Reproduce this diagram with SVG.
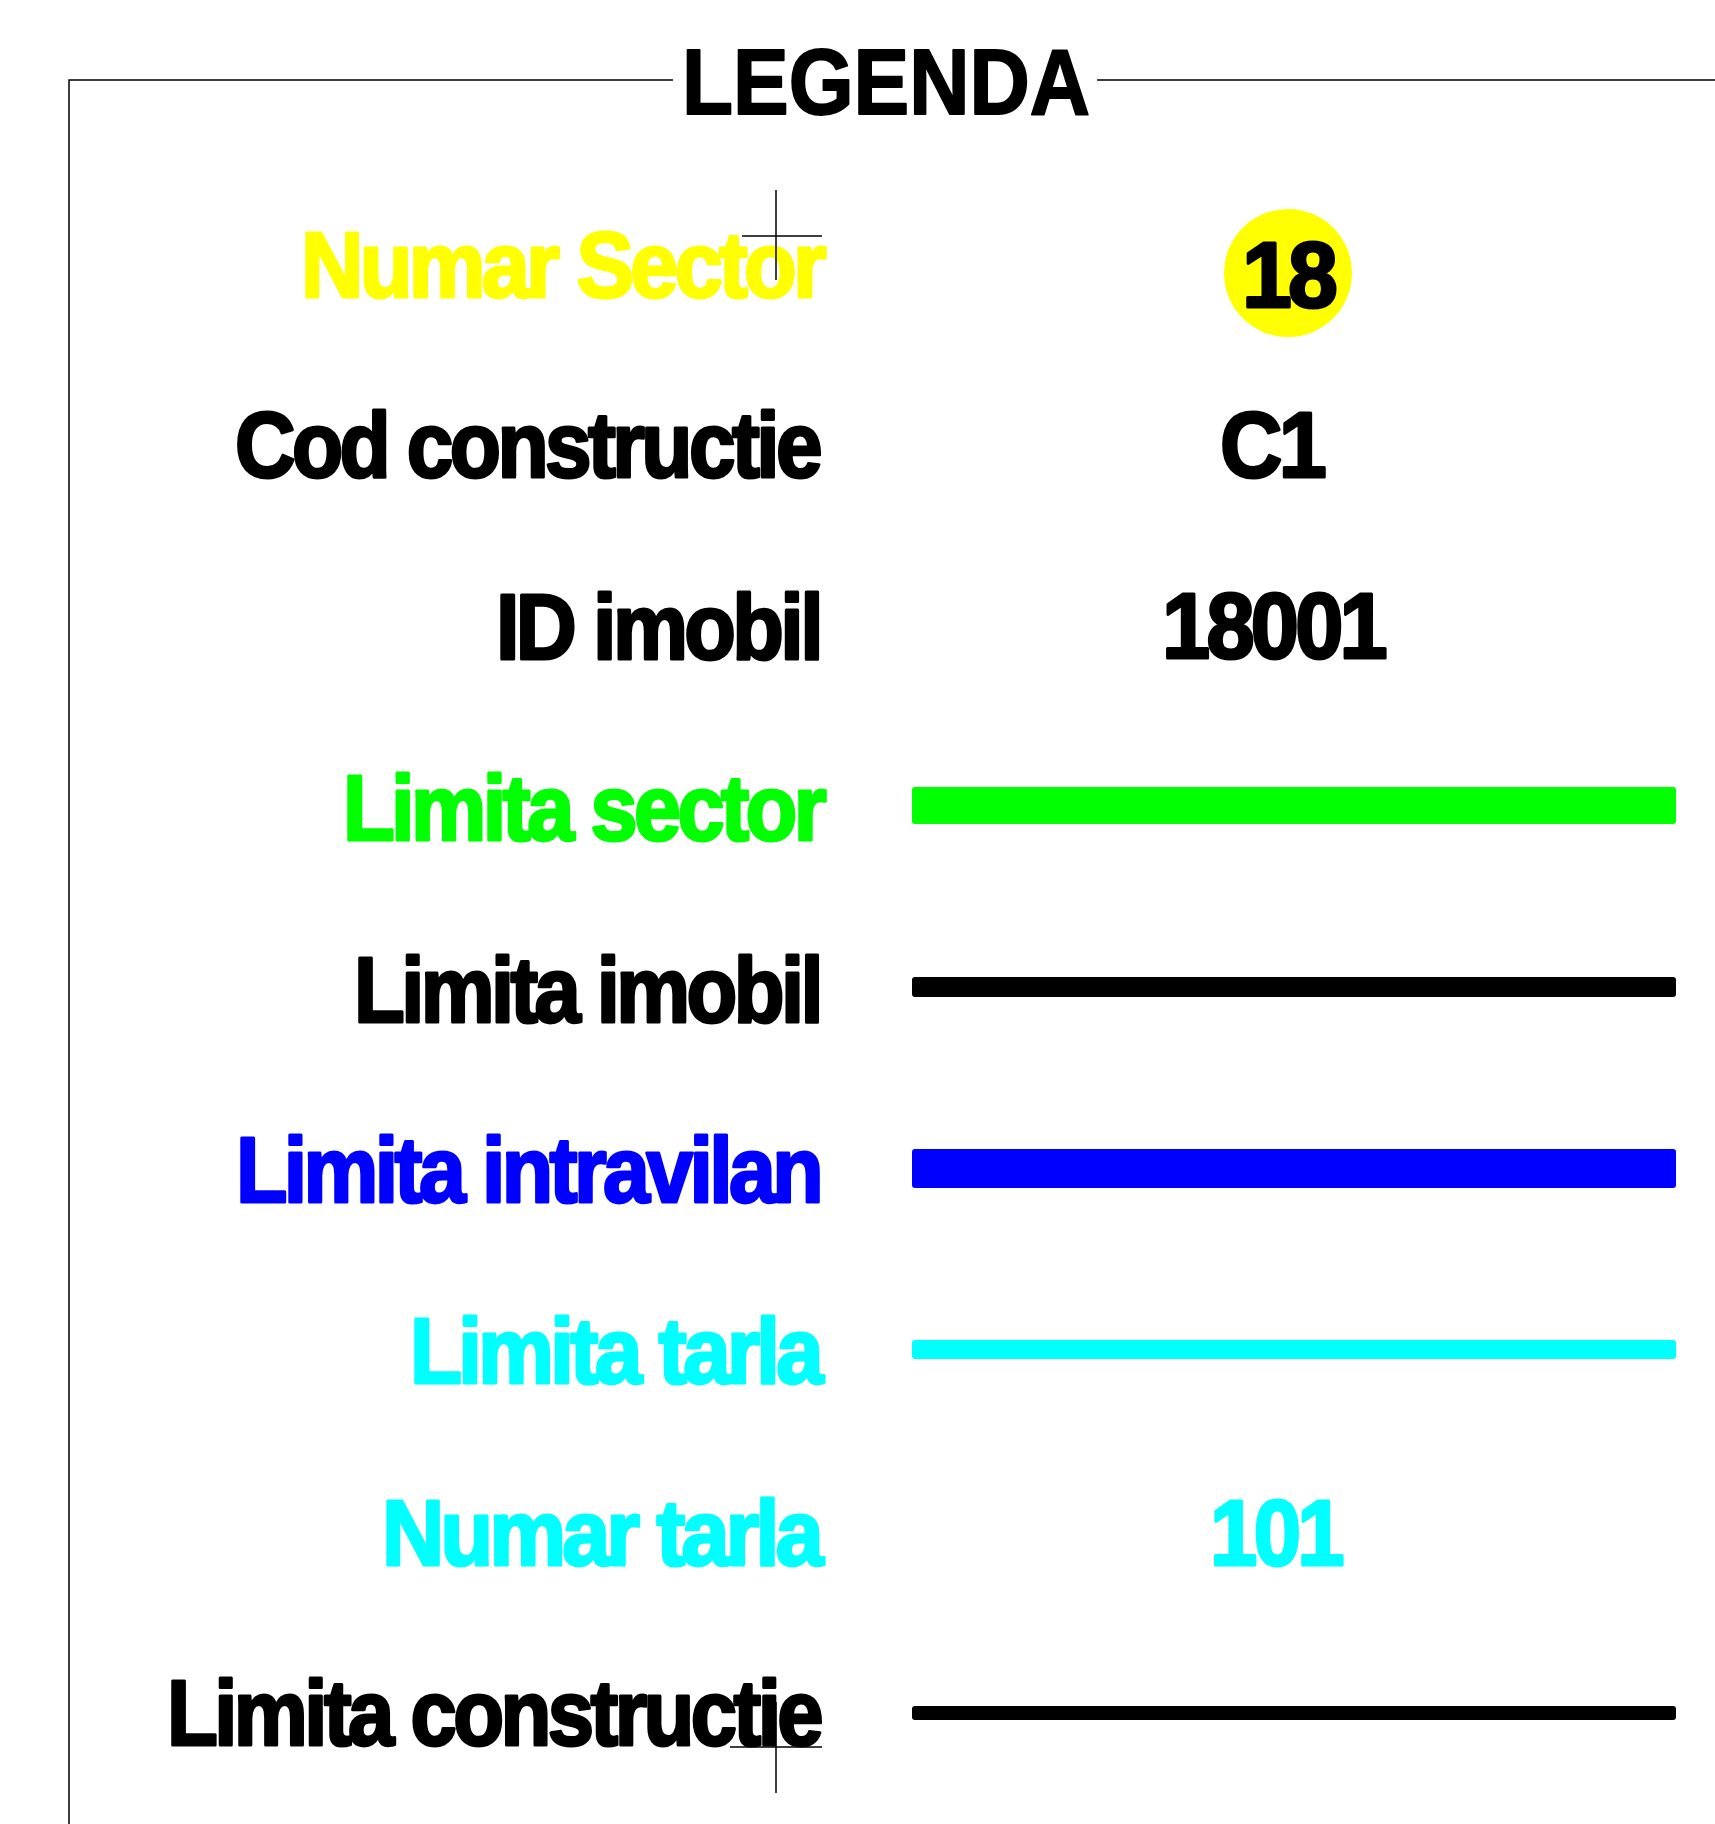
<svg xmlns="http://www.w3.org/2000/svg" width="1715" height="1824" viewBox="0 0 1715 1824">
<style>
  .t { font-family: "Liberation Sans", Arial, sans-serif; font-weight: bold; font-size: 93px; stroke-width: 3; stroke-linejoin: round; letter-spacing: -4px; }
  .h { letter-spacing: 0; stroke-width: 2; }
  .k { fill: #000; stroke: #000; }
  .y { fill: #ffff00; stroke: #ffff00; }
  .g { fill: #00ff00; stroke: #00ff00; }
  .b { fill: #0000ff; stroke: #0000ff; }
  .c { fill: #00ffff; stroke: #00ffff; }
  .frame { stroke: #000; stroke-width: 1.5; fill: none; }
  .cross { stroke: #000; stroke-width: 1.5; fill: none; }
</style>
<rect x="0" y="0" width="1715" height="1824" fill="#fff"/>
<g id="frame">
  <path class="frame" d="M69,1824 V80 H673 M1097,80 H1715"/>
  <text class="t h k" x="682" y="114" textLength="408" lengthAdjust="spacingAndGlyphs">LEGENDA</text>
</g>
<g id="row-numar-sector">
  <text class="t y" x="301" y="297" textLength="522" lengthAdjust="spacingAndGlyphs">Numar Sector</text>
  <circle cx="1288" cy="273" r="64" fill="#ffff00"/>
  <text class="t k" x="1242" y="307" textLength="92" lengthAdjust="spacingAndGlyphs">18</text>
</g>
<g id="row-cod-constructie">
  <text class="t k" x="235" y="477" textLength="584" lengthAdjust="spacingAndGlyphs">Cod constructie</text>
  <text class="t k" x="1220" y="477" textLength="103" lengthAdjust="spacingAndGlyphs">C1</text>
</g>
<g id="row-id-imobil">
  <text class="t k" x="496" y="659" textLength="324" lengthAdjust="spacingAndGlyphs">ID imobil</text>
  <text class="t k" x="1162" y="658" textLength="222" lengthAdjust="spacingAndGlyphs">18001</text>
</g>
<g id="row-limita-sector">
  <text class="t g" x="343" y="840" textLength="480" lengthAdjust="spacingAndGlyphs">Limita sector</text>
  <rect x="912" y="787" width="764" height="37" rx="3" fill="#00ff00"/>
</g>
<g id="row-limita-imobil">
  <text class="t k" x="354" y="1022" textLength="466" lengthAdjust="spacingAndGlyphs">Limita imobil</text>
  <rect x="912" y="977" width="764" height="20" rx="3" fill="#000"/>
</g>
<g id="row-limita-intravilan">
  <text class="t b" x="236" y="1202" textLength="584" lengthAdjust="spacingAndGlyphs">Limita intravilan</text>
  <rect x="912" y="1149" width="764" height="39" rx="3" fill="#0000ff"/>
</g>
<g id="row-limita-tarla">
  <text class="t c" x="410" y="1383" textLength="410" lengthAdjust="spacingAndGlyphs">Limita tarla</text>
  <rect x="912" y="1340" width="764" height="19" rx="3" fill="#00ffff"/>
</g>
<g id="row-numar-tarla">
  <text class="t c" x="382" y="1565" textLength="438" lengthAdjust="spacingAndGlyphs">Numar tarla</text>
  <text class="t c" x="1210" y="1565" textLength="131" lengthAdjust="spacingAndGlyphs">101</text>
</g>
<g id="row-limita-constructie">
  <text class="t k" x="167" y="1745" textLength="653" lengthAdjust="spacingAndGlyphs">Limita constructie</text>
  <rect x="912" y="1706" width="764" height="14" rx="3" fill="#000"/>
</g>
<g id="crosshairs">
  <path class="cross" d="M776,190 V280 M742,236 H822"/>
  <path class="cross" d="M776,1702 V1793 M730,1747 H822"/>
</g>
</svg>
